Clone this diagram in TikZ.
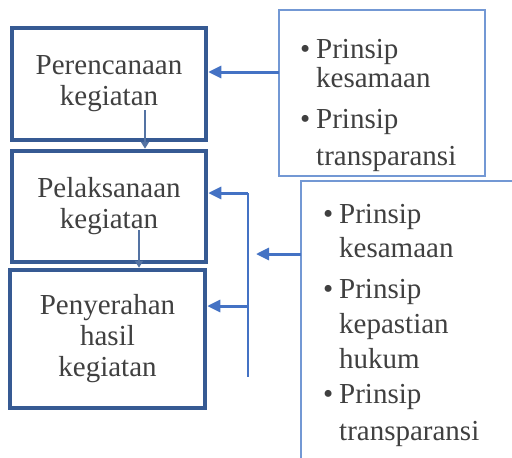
\documentclass[tikz,border=0pt]{standalone}
\usepackage{fontspec}
\setmainfont{Liberation Serif}
\newfontfamily\serf{Liberation Serif}
\usetikzlibrary{arrows.meta}
\definecolor{boxdark}{HTML}{365A93}
\definecolor{boxlight}{HTML}{7398D4}
\definecolor{arrblue}{HTML}{4472C4}
\definecolor{txtgrey}{HTML}{404040}
\tikzset{
  x=1pt,y=-1pt,
  mainbox/.style={draw=boxdark,line width=4.5pt,fill=white,align=center,
    font=\serf\fontsize{29}{31}\selectfont,text=txtgrey,inner sep=0pt},
  sidebox/.style={draw=boxlight,line width=1.8pt,fill=white},
  ln/.style={anchor=base west,inner sep=0pt,font=\serf\fontsize{29}{31}\selectfont,text=txtgrey},
  arr/.style={draw=arrblue,line width=3pt,-{Triangle[length=13pt,width=12pt]}},
  plain/.style={draw=arrblue,line width=2.4pt},
  down/.style={draw=boxdark!85!white,line width=2pt,-{Triangle[length=7pt,width=8pt]}},
}
\newcommand{\bul}{\makebox[16pt][l]{\textbullet}}
\begin{document}
\begin{tikzpicture}
\useasboundingbox (0,0) rectangle (512,458);
\clip (0,0) rectangle (512,458);
\fill[white] (0,0) rectangle (512,458);
% main boxes
\node[mainbox,minimum width=194pt,minimum height=112pt] (b1) at (109,84) {Perencanaan\\kegiatan};
\node[mainbox,minimum width=194pt,minimum height=111pt] (b2) at (109,206.5) {Pelaksanaan\\kegiatan};
\node[mainbox,minimum width=195pt,minimum height=138pt] (b3) at (107.5,339) {Penyerahan\\hasil\\kegiatan};
% side boxes
\node[sidebox,minimum width=206pt,minimum height=166pt] (r1) at (382,93) {};
\node[sidebox,minimum width=230pt,minimum height=300pt] (r2) at (416,331) {};
% side box texts
\node[ln] (p1) at (300,58) {\bul Prinsip};
\node[ln] (p2) at (316,87) {kesamaan};
\node[ln] (p3) at (300,128) {\bul Prinsip};
\node[ln] (p4) at (316,165) {transparansi};
\node[ln] (q1) at (323,223) {\bul Prinsip};
\node[ln] (q2) at (339,257) {kesamaan};
\node[ln] (q3) at (323,298) {\bul Prinsip};
\node[ln] (q4) at (339,333) {kepastian};
\node[ln] (q5) at (339,368) {hukum};
\node[ln] (q6) at (323,403) {\bul Prinsip};
\node[ln] (q7) at (339,440) {transparansi};
% connectors
\coordinate (c1) at (279,72);
\draw[arr] (c1) -- (c1 -| b1.east);
\coordinate (c2) at (301,254);
\coordinate (c2e) at (256,254);
\draw[arr] (c2) -- (c2e);
\coordinate (v1) at (248,193);
\coordinate (v2) at (248,377);
\coordinate (v3) at (248,306);
\draw[plain] (v1) -- (v2);
\draw[arr] (v1) -- (v1 -| b2.east);
\draw[arr] (v3) -- (v3 -| b3.east);
% down arrows
\coordinate (d1) at (145,110);
\draw[down] (d1) -- (d1 |- b2.north);
\coordinate (d2) at (139,230);
\draw[down] (d2) -- (d2 |- b3.north);
\end{tikzpicture}
\end{document}
